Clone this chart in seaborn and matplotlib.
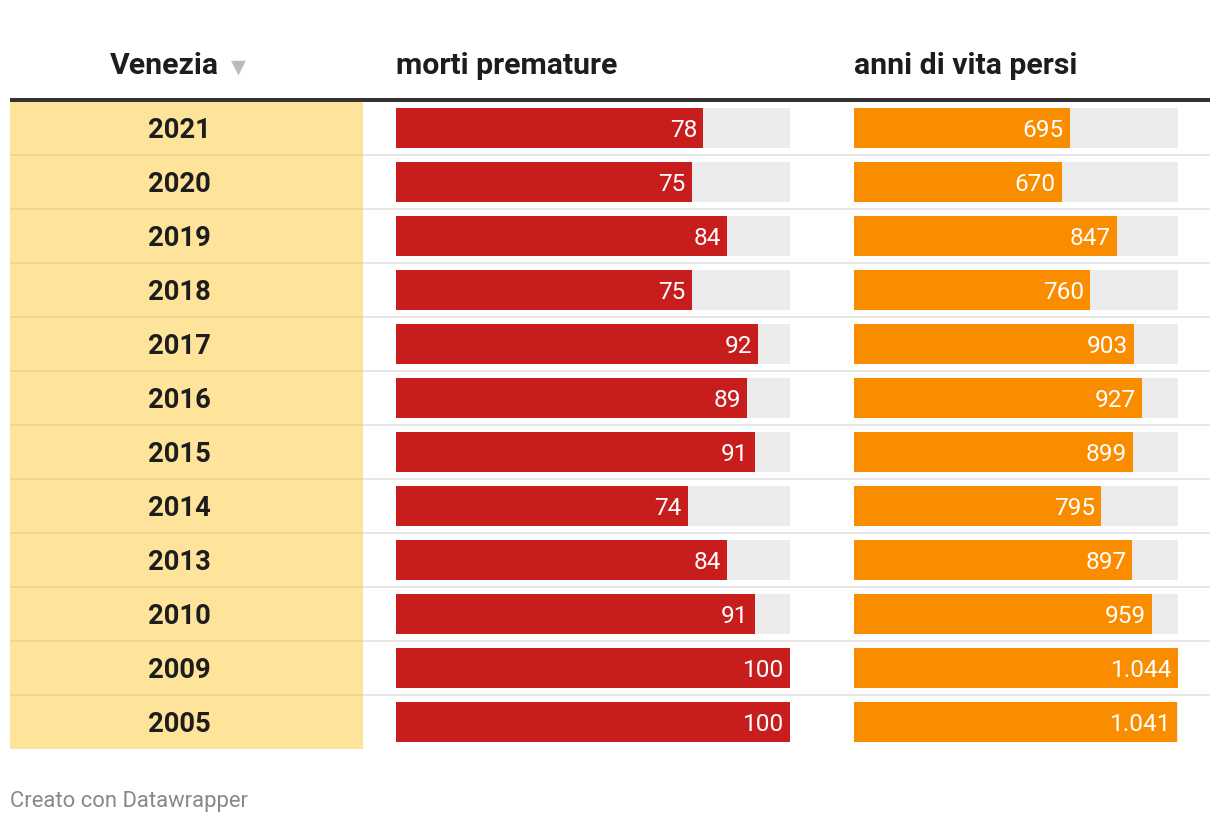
import matplotlib
matplotlib.use('Agg')
import matplotlib.pyplot as plt
from matplotlib.lines import Line2D
import seaborn as sns
import pandas as pd

years = ["2021", "2020", "2019", "2018", "2017", "2016", "2015", "2014", "2013", "2010", "2009", "2005"]
morti = [78, 75, 84, 75, 92, 89, 91, 74, 84, 91, 100, 100]
anni = [695, 670, 847, 760, 903, 927, 899, 795, 897, 959, 1044, 1041]
headers = ["Venezia", "morti premature", "anni di vita persi"]
footer = "Creato con Datawrapper"

sns.set_theme(style="white")
plt.rcParams['font.family'] = ['Roboto', 'DejaVu Sans']

W, H = 1220, 824
fig = plt.figure(figsize=(W / 100, H / 100), dpi=100)
fig.patch.set_facecolor('white')


def fx(px):
    return px / W


def fy(py):
    return 1 - py / H


top, bottom = 101, 749
n = len(years)
df = pd.DataFrame({'anno': years, 'morti': morti, 'anni': anni})
TEXT = '#1d1d1d'

# table rows (year column + separators)
axr = fig.add_axes([0, fy(bottom), 1, (bottom - top) / H])
axr.set_xlim(0, W)
axr.set_ylim(n - 0.5, -0.5)
axr.axis('off')
axr.axvspan(10, 363, color='#fee49b', zorder=0, lw=0)
for i in range(n - 1):
    axr.plot([10, 363], [i + 0.5, i + 0.5], color='#efd68e', lw=1.4, zorder=1, solid_capstyle='butt')
    axr.plot([363, 1210], [i + 0.5, i + 0.5], color='#e6e6e6', lw=1.4, zorder=1, solid_capstyle='butt')
for i, y in enumerate(years):
    axr.text(179, i, y, ha='center', va='center_baseline', fontsize=19.7,
             fontweight='bold', color=TEXT)


def fmt(v):
    return f"{v:,}".replace(',', '.')


def bar_col(col, color, left, right):
    ax = fig.add_axes([fx(left), fy(bottom), (right - left) / W, (bottom - top) / H])
    vals = list(df[col])
    vmax = max(vals)
    track = pd.DataFrame({'anno': years, 'v': [vmax] * n})
    sns.barplot(data=track, x='v', y='anno', order=years, orient='h', color='#ececec',
                width=40 / 54, saturation=1, ax=ax, errorbar=None, linewidth=0)
    sns.barplot(data=df, x=col, y='anno', order=years, orient='h', color=color,
                width=40 / 54, saturation=1, ax=ax, errorbar=None, linewidth=0)
    for i, v in enumerate(vals):
        ax.annotate(fmt(v), xy=(v, i), xytext=(-6, 0), textcoords='offset pixels',
                    ha='right', va='center_baseline', color='white', fontsize=17.6)
    ax.set_xlim(0, vmax)
    ax.set_ylim(n - 0.5, -0.5)
    ax.axis('off')
    return ax


bar_col('morti', '#c71e1d', 396, 790)
bar_col('anni', '#fa8c00', 854, 1178)

# headers
fig.text(fx(219), fy(74), headers[0], ha='right', va='baseline', fontsize=21.8,
         fontweight='bold', color=TEXT)
fig.text(fx(231), fy(73), '▼', ha='left', va='baseline', fontsize=14,
         color='#bbbbbb', family=['DejaVu Sans'])
fig.text(fx(396), fy(74), headers[1], ha='left', va='baseline', fontsize=21.8,
         fontweight='bold', color=TEXT)
fig.text(fx(854), fy(74), headers[2], ha='left', va='baseline', fontsize=21.8,
         fontweight='bold', color=TEXT)

fig.add_artist(Line2D([fx(10), fx(1210)], [fy(100), fy(100)], lw=2.9, color='#333333',
                      solid_capstyle='butt'))

fig.text(fx(10), fy(807), footer, ha='left', va='baseline', fontsize=15.8, color='#888888')

fig.savefig('out.png', dpi=100, facecolor='white')
